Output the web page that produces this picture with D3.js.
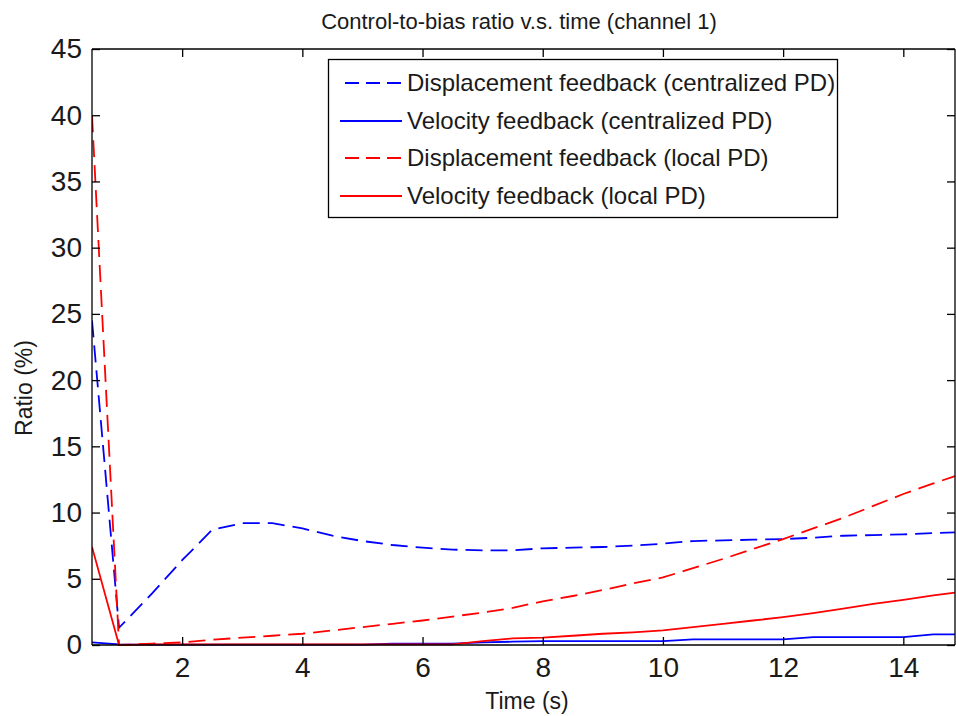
<!DOCTYPE html>
<html>
<head>
<meta charset="utf-8">
<script src="https://cdn.jsdelivr.net/npm/d3@7"></script>
<style>
  html, body { margin: 0; padding: 0; background: #fff; }
  svg { display: block; font-family: "Liberation Sans", Arial, sans-serif; }
</style>
</head>
<body>
<script>
// ---- data ----
const time = [0.5, 0.95, 1.5, 2, 2.5, 3, 3.5, 4, 4.5, 5, 5.5, 6, 6.5, 7, 7.5, 8, 8.5, 9, 9.5, 10, 10.5, 11, 11.5, 12, 12.5, 13, 13.5, 14, 14.5, 14.86];
const dispCentral = [24.5, 1.3, 3.9, 6.4, 8.7, 9.2, 9.2, 8.8, 8.25, 7.85, 7.55, 7.35, 7.2, 7.15, 7.15, 7.3, 7.35, 7.4, 7.5, 7.65, 7.85, 7.9, 7.95, 8.0, 8.1, 8.25, 8.3, 8.35, 8.45, 8.5];
const velCentral = [0.2, 0.05, 0.03, 0.03, 0.03, 0.03, 0.03, 0.03, 0.03, 0.03, 0.1, 0.1, 0.1, 0.2, 0.25, 0.3, 0.3, 0.3, 0.3, 0.3, 0.43, 0.43, 0.43, 0.43, 0.6, 0.6, 0.6, 0.6, 0.8, 0.8];
const dispLocal = [40, 0, 0.1, 0.2, 0.4, 0.55, 0.7, 0.85, 1.1, 1.35, 1.6, 1.85, 2.15, 2.45, 2.8, 3.3, 3.7, 4.15, 4.65, 5.1, 5.8, 6.5, 7.25, 8.0, 8.8, 9.6, 10.5, 11.4, 12.2, 12.75];
const velLocal = [7.4, 0, 0.05, 0.05, 0.05, 0.05, 0.05, 0.05, 0.05, 0.05, 0.05, 0.05, 0.05, 0.3, 0.5, 0.55, 0.7, 0.85, 0.95, 1.1, 1.35, 1.6, 1.85, 2.1, 2.4, 2.75, 3.1, 3.4, 3.75, 3.95];
const seriesNames = [
  "Displacement feedback (centralized PD)",
  "Velocity feedback (centralized PD)",
  "Displacement feedback (local PD)",
  "Velocity feedback (local PD)"
];
const seriesValues = [dispCentral, velCentral, dispLocal, velLocal];
const seriesColors = ["#0000ff", "#0000ff", "#ff0000", "#ff0000"];
const seriesDashed = [true, false, true, false];
const xTicks = [2, 4, 6, 8, 10, 12, 14];
const yTicks = [0, 5, 10, 15, 20, 25, 30, 35, 40, 45];
const titleText = "Control-to-bias ratio v.s. time (channel 1)";
const xLabel = "Time (s)";
const yLabel = "Ratio (%)";

// ---- layout ----
const W = 956, H = 716;
const L = 92, R = 955, T = 49, B = 645;

const svg = d3.select("body").append("svg").attr("width", W).attr("height", H);

const x = d3.scaleLinear().domain([0.5, 14.86]).range([L, R]);
const y = d3.scaleLinear().domain([0, 45]).range([B, T]);

svg.append("rect").attr("x", L).attr("y", T).attr("width", R - L).attr("height", B - T).attr("fill", "#fff");

svg.append("clipPath").attr("id", "clip").append("rect")
  .attr("x", L).attr("y", T - 2).attr("width", R - L + 1).attr("height", B - T + 4);

const line = d3.line().x((d, i) => x(time[i])).y(d => y(d));
const gLines = svg.append("g").attr("clip-path", "url(#clip)");
seriesValues.forEach((vals, k) => {
  gLines.append("path")
    .datum(vals)
    .attr("d", line)
    .attr("fill", "none")
    .attr("stroke", seriesColors[k])
    .attr("stroke-width", 1.8)
    .attr("stroke-dasharray", seriesDashed[k] ? "17,8" : null);
});

const tickFont = 28;
const gx = svg.append("g").attr("transform", `translate(0,${B})`)
  .call(d3.axisBottom(x).tickValues(xTicks).tickSize(-8).tickPadding(12).tickFormat(d3.format("d")));
const gy = svg.append("g").attr("transform", `translate(${L},0)`)
  .call(d3.axisLeft(y).tickValues(yTicks).tickSize(-8).tickPadding(10).tickFormat(d3.format("d")));
const gt = svg.append("g").attr("transform", `translate(0,${T})`)
  .call(d3.axisTop(x).tickValues(xTicks).tickSize(-8).tickFormat(""));
const gr = svg.append("g").attr("transform", `translate(${R},0)`)
  .call(d3.axisRight(y).tickValues(yTicks).tickSize(-8).tickFormat(""));

[gx, gy, gt, gr].forEach(g => {
  g.selectAll(".domain").attr("stroke", "#000").attr("stroke-width", 1.3);
  g.selectAll(".tick line").attr("stroke", "#000").attr("stroke-width", 1.3);
  g.selectAll(".tick text").attr("fill", "#1a1a1a")
    .style("font-family", '"Liberation Sans", Arial, sans-serif')
    .style("font-size", tickFont + "px");
});
gt.selectAll(".domain").attr("d", `M${L},0H${R}`);
gr.selectAll(".domain").attr("d", `M0,${T}V${B}`);
gx.selectAll(".domain").attr("d", `M${L},0H${R}`);
gy.selectAll(".domain").attr("d", `M0,${T}V${B}`);

svg.append("text").attr("x", 519).attr("y", 29)
  .attr("text-anchor", "middle").attr("fill", "#1a1a1a")
  .style("font-size", "22px").text(titleText);

svg.append("text").attr("x", 527).attr("y", 709)
  .attr("text-anchor", "middle").attr("fill", "#1a1a1a")
  .style("font-size", "23px").text(xLabel);
svg.append("text").attr("transform", `translate(32,388) rotate(-90)`)
  .attr("text-anchor", "middle").attr("fill", "#1a1a1a")
  .style("font-size", "23px").text(yLabel);

const lg = svg.append("g");
lg.append("rect").attr("x", 328.5).attr("y", 59.5).attr("width", 509).attr("height", 158)
  .attr("fill", "#fff").attr("stroke", "#000").attr("stroke-width", 1.3);
const rowY = [83, 121, 158, 196];
seriesNames.forEach((name, k) => {
  lg.append("line")
    .attr("x1", seriesDashed[k] ? 345 : 340).attr("x2", 402)
    .attr("y1", rowY[k]).attr("y2", rowY[k])
    .attr("stroke", seriesColors[k]).attr("stroke-width", 1.8)
    .attr("stroke-dasharray", seriesDashed[k] ? "14,7" : null);
  lg.append("text").attr("x", 407).attr("y", rowY[k]).attr("dy", "0.35em")
    .attr("fill", "#1a1a1a").style("font-size", "24px").text(name);
});
</script>
</body>
</html>
